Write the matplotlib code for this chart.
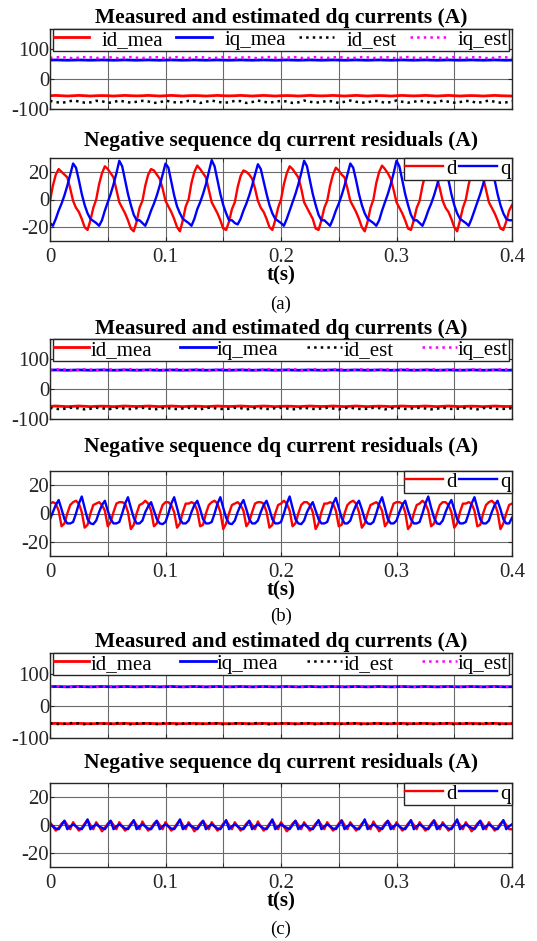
import numpy as np
import matplotlib
matplotlib.use('Agg')
import matplotlib.pyplot as plt

plt.rcParams['font.family'] = ['Liberation Serif', 'DejaVu Serif']
plt.rcParams['axes.unicode_minus'] = False

# ---------------- data ----------------
t_top = np.linspace(0, 0.4, 81)      # 5 ms sampling for top panels
t_res = np.linspace(0, 0.4, 161)     # 2.5 ms sampling for residual panels

# (a) measured / estimated dq currents
a_id_mea = [-56,-55,-56,-57,-56,-55,-56,-57,-56,-55.5,-56,-57,-56,-55,-56,-56.5,-56,-55,-56,-57,
            -56,-55,-56,-57,-56,-55.5,-56,-57,-56,-55,-56,-56.5,-56,-55,-56,-57,-56,-55,-56,-57,
            -56,-55.5,-56,-57,-56,-55,-56,-56.5,-56,-55,-56,-57,-56,-55,-56,-57,-56,-55.5,-56,-57,
            -56,-55,-56,-56.5,-56,-55,-56,-57,-56,-55,-56,-57,-56,-55.5,-56,-57,-56,-55,-56,-56.5,-57]
a_iq_mea = [62,62.5,62,61.5,62,62.5,62,61.5,62,62.5,62,61.5,62,62.5,62,61.5,62,62.5,62,61.5,
            62,62.5,62,61.5,62,62.5,62,61.5,62,62.5,62,61.5,62,62.5,62,61.5,62,62.5,62,61.5,
            62,62.5,62,61.5,62,62.5,62,61.5,62,62.5,62,61.5,62,62.5,62,61.5,62,62.5,62,61.5,
            62,62.5,62,61.5,62,62.5,62,61.5,62,62.5,62,61.5,62,62.5,62,61.5,62,62.5,62,61.5,62]
a_id_est = [-73,-77,-80,-76,-72,-75,-79,-78,-73,-74,-80,-77,-72,-76,-79,-76,-73,-75,-80,-78,
            -72,-76,-79,-77,-73,-75,-80,-76,-72,-76,-79,-78,-73,-74,-80,-77,-72,-76,-79,-76,
            -73,-75,-80,-78,-72,-76,-79,-77,-73,-75,-80,-76,-72,-76,-79,-78,-73,-74,-80,-77,
            -72,-76,-79,-76,-73,-75,-80,-78,-72,-76,-79,-77,-73,-75,-80,-76,-72,-76,-79,-78,-74]
a_iq_est = [69,71,72,70,68,70,72,71,69,70,72,70,68,71,72,70,69,70,72,71,
            68,70,72,70,69,71,72,70,68,70,72,71,69,70,72,70,68,71,72,70,
            69,70,72,71,68,70,72,70,69,71,72,70,68,70,72,71,69,70,72,70,
            68,71,72,70,69,70,72,71,68,70,72,70,69,71,72,70,68,70,72,71,70]

# (a) negative-sequence residuals
a_res_d = [-1,10,18,22,20,18,16,8,-1,-6,-9,-14,-20,-22,-15,-6,
           0,11,19,24,22,19,16,7,-2,-6,-10,-15,-21,-23,-16,-6,
           -1,10,18,22,21,18,15,8,-1,-5,-9,-14,-20,-23,-15,-5,
           0,12,20,24.5,22,19,16,7,-2,-6,-10,-15,-21,-22,-16,-7,
           -2,9,17,21,20,18,15,8,-1,-6,-9,-14,-20,-22,-15,-6,
           0,11,19,24,22,19,16,8,-2,-6,-10,-14,-21,-22,-15,-6,
           -1,10,18,23,21,18,16,8,-1,-5,-9,-14,-20,-23,-16,-6,
           0,12,20,24.5,22,19,15,7,-2,-6,-10,-15,-21,-22,-15,-6,
           -1,10,18,22,21,18,16,8,-1,-6,-9,-14,-20,-23,-15,-6,
           0,11,19,24,22,19,16,7,-2,-6,-10,-15,-21,-22,-16,-8,
           -4]
a_res_q = [-17,-19,-14,-8,-3,3,10,18,26,23,14,4,-4,-10,-14,-15.5,
           -17,-19,-15,-8,-2,4,11,19,28,24,14,4,-4,-11,-15,-15,
           -17,-19,-14,-8,-3,3,10,18,26,23,13,3,-5,-10,-14,-15.5,
           -17,-19,-14,-7,-2,4,11,20,28.5,24,14,4,-4,-10,-15,-15,
           -17,-18,-14,-8,-3,3,10,18,25.5,22,13,4,-4,-10,-14,-15.5,
           -17,-19,-14,-8,-2,4,11,19,28,24,14,4,-4,-11,-15,-15,
           -17,-19,-14,-8,-3,3,10,18,26,23,14,4,-4,-10,-14,-15.5,
           -17,-19,-15,-8,-2,4,11,19,28,24,14,4,-4,-11,-15,-15,
           -17,-19,-14,-8,-3,3,10,18,26,23,14,4,-4,-10,-14,-15.5,
           -17,-19,-14,-8,-2,4,11,19,28,24,14,4,-4,-10,-14,-15,
           -15]

# (b) measured / estimated dq currents
b_id_mea = [-58,-57,-58,-59,-58,-57,-58,-59,-58,-57.5,-58,-59,-58,-57,-58,-58.5,-58,-57,-58,-59,
            -58,-57,-58,-59,-58,-57.5,-58,-59,-58,-57,-58,-58.5,-58,-57,-58,-59,-58,-57,-58,-59,
            -58,-57.5,-58,-59,-58,-57,-58,-58.5,-58,-57,-58,-59,-58,-57,-58,-59,-58,-57.5,-58,-59,
            -58,-57,-58,-58.5,-58,-57,-58,-59,-58,-57,-58,-59,-58,-57.5,-58,-59,-58,-57,-58,-58.5,-58]
b_iq_mea = [62,62.5,62,61.5,62,62.5,62,61.5,62,62.5,62,61.5,62,62.5,62,61.5,62,62.5,62,61.5,
            62,62.5,62,61.5,62,62.5,62,61.5,62,62.5,62,61.5,62,62.5,62,61.5,62,62.5,62,61.5,
            62,62.5,62,61.5,62,62.5,62,61.5,62,62.5,62,61.5,62,62.5,62,61.5,62,62.5,62,61.5,
            62,62.5,62,61.5,62,62.5,62,61.5,62,62.5,62,61.5,62,62.5,62,61.5,62,62.5,62,61.5,62]
b_id_est = [-63,-66,-68,-64,-62,-65,-68,-66,-63,-64,-68,-65,-62,-66,-67,-64,-63,-65,-68,-66,
            -62,-66,-67,-65,-63,-65,-68,-64,-62,-66,-67,-66,-63,-64,-68,-65,-62,-66,-67,-64,
            -63,-65,-68,-66,-62,-66,-67,-65,-63,-65,-68,-64,-62,-66,-67,-66,-63,-64,-68,-65,
            -62,-66,-67,-64,-63,-65,-68,-66,-62,-66,-67,-65,-63,-65,-68,-64,-62,-66,-67,-66,-64]
b_iq_est = [62,64,65,63,61,63,65,64,62,63,65,63,61,64,65,63,62,63,65,64,
            61,63,65,63,62,64,65,63,61,63,65,64,62,63,65,63,61,64,65,63,
            62,63,65,64,61,63,65,63,62,64,65,63,61,63,65,64,62,63,65,63,
            61,64,65,63,62,63,65,64,61,63,65,63,62,64,65,63,61,63,65,64,63]

# (b) negative-sequence residuals
b_res_d = [7,8,7,2,-9,-7,0,6, 8,9,7,1,-10,-8,0,6, 7,8,6,2,-9,-6,1,7, 8,8,7,1,-11,-8,0,6,
           7,9,7,2,-9,-7,0,6, 8,8,6,1,-10,-7,1,7, 7,8,7,2,-9,-8,0,6, 8,9,7,1,-11,-7,0,6,
           7,8,6,2,-9,-6,1,7, 8,8,7,1,-10,-8,0,6, 7,9,7,2,-9,-7,0,6, 8,8,6,1,-11,-7,1,7,
           7,8,7,2,-9,-8,0,6, 8,9,7,1,-10,-7,0,6, 7,8,6,2,-9,-6,1,7, 8,8,7,1,-11,-8,0,6,
           7,9,7,2,-9,-7,0,6, 8,8,6,1,-10,-7,1,7, 7,8,7,2,-9,-8,0,6, 8,9,7,1,-11,-7,0,6,
           7]
b_res_q = [-4,1,6,9.5,3,-4,-7,-7, -6,0,7,12,4,-4,-7,-7.5, -5,1,6,9,2,-4,-7,-7, -6,0,7,11.5,4,-3,-7,-7,
           -5,1,5,8,2,-4,-7,-7.5, -6,0,7,11.5,4,-4,-7,-7, -5,1,6,9,3,-4,-7,-7, -6,0,7,11.5,4,-3,-7,-7.5,
           -5,1,6,9.5,3,-4,-7,-7, -5,1,6,9,3,-4,-7,-7, -6,0,7,12,4,-4,-7,-7.5, -5,1,5,8,2,-4,-7,-7,
           -6,0,7,11,4,-3,-7,-7, -5,1,6,9,3,-4,-7,-7.5, -6,0,7,11.5,4,-4,-7,-7, -5,1,6,9,2,-4,-7,-7,
           -6,0,7,12,4,-3,-7,-7.5, -5,1,6,9.5,3,-4,-7,-7, -6,0,7,11.5,4,-4,-7,-7, -5,1,6,9,3,-4,-7,-7,
           -3]

# (c) measured / estimated dq currents
c_id_mea = [-55,-54.5,-55,-55.5,-55,-54.5,-55,-55.5,-55,-54.5,-55,-55.5,-55,-54.5,-55,-55.5,-55,-54.5,-55,-55.5,
            -55,-54.5,-55,-55.5,-55,-54.5,-55,-55.5,-55,-54.5,-55,-55.5,-55,-54.5,-55,-55.5,-55,-54.5,-55,-55.5,
            -55,-54.5,-55,-55.5,-55,-54.5,-55,-55.5,-55,-54.5,-55,-55.5,-55,-54.5,-55,-55.5,-55,-54.5,-55,-55.5,
            -55,-54.5,-55,-55.5,-55,-54.5,-55,-55.5,-55,-54.5,-55,-55.5,-55,-54.5,-55,-55.5,-55,-54.5,-55,-55.5,-55]
c_iq_mea = [60,60.5,60,59.5,60,60.5,60,59.5,60,60.5,60,59.5,60,60.5,60,59.5,60,60.5,60,59.5,
            60,60.5,60,59.5,60,60.5,60,59.5,60,60.5,60,59.5,60,60.5,60,59.5,60,60.5,60,59.5,
            60,60.5,60,59.5,60,60.5,60,59.5,60,60.5,60,59.5,60,60.5,60,59.5,60,60.5,60,59.5,
            60,60.5,60,59.5,60,60.5,60,59.5,60,60.5,60,59.5,60,60.5,60,59.5,60,60.5,60,59.5,60]
c_id_est = [-54,-56,-57,-55,-53,-55,-57,-56,-54,-55,-57,-55,-53,-56,-57,-55,-54,-55,-57,-56,
            -53,-55,-57,-55,-54,-56,-57,-55,-53,-55,-57,-56,-54,-55,-57,-55,-53,-56,-57,-55,
            -54,-55,-57,-56,-53,-55,-57,-55,-54,-56,-57,-55,-53,-55,-57,-56,-54,-55,-57,-55,
            -53,-56,-57,-55,-54,-55,-57,-56,-53,-55,-57,-55,-54,-56,-57,-55,-53,-55,-57,-56,-55]
c_iq_est = [59,61,61.5,60,59,60,61.5,60.5,59,60,61.5,60,59,61,61.5,60,59,60,61.5,60.5,
            59,60,61.5,60,59,61,61.5,60,59,60,61.5,60.5,59,60,61.5,60,59,61,61.5,60,
            59,60,61.5,60.5,59,60,61.5,60,59,61,61.5,60,59,60,61.5,60.5,59,60,61.5,60,
            59,61,61.5,60,59,60,61.5,60.5,59,60,61.5,60,59,61,61.5,60,59,60,61.5,60.5,60]

# (c) negative-sequence residuals
c_res_d = [2,-1,-4,-2,1,3,0,-3, 2,-1,-4,-2,1,3.5,0,-3, 2,-1,-4.5,-2,1,3,0,-3, 2,-1,-4,-2,1,3,0,-3,
           2.5,-1,-4,-2,1,3,0,-3, 2,-1,-4,-2,1,3.5,0,-3, 2,-1,-4.5,-2,1,3,0,-3, 2,-1,-4,-2,1,3,0,-3,
           2,-1,-4,-2,1,3,0,-3, 2.5,-1,-4,-2,1,3.5,0,-3, 2,-1,-4.5,-2,1,3,0,-3, 2,-1,-4,-2,1,3,0,-3,
           2,-1,-4,-2,1,3.5,0,-3, 2,-1,-4,-2,1,3,0,-3, 2.5,-1,-4.5,-2,1,3,0,-3, 2,-1,-4,-2,1,3,0,-3,
           2,-1,-4,-2,1,3.5,0,-3, 2,-1,-4,-2,1,3,0,-3, 2,-1,-4.5,-2,1,3,0,-3, 2,-1,-4,-2,1,3,0,-3,
           -3]
c_res_q = [0.5,-1,-2.5,-3,0,3,-3,-1, 0.5,-1,-2.5,-3,0,4,-3,-1, 0.5,-1,-2,-3,0,3,-3,-1, 0.5,-1,-2.5,-3,0,3.5,-3,-1,
           0.5,-1,-2.5,-3,0,3,-3,-1, 0.5,-1,-2.5,-3,0,4,-3,-1, 0.5,-1,-2,-3,0,3,-3,-1, 0.5,-1,-2.5,-3,0,3.5,-3,-1,
           0.5,-1,-2.5,-3,0,3,-3,-1, 0.5,-1,-2.5,-3,0,4,-3,-1, 0.5,-1,-2,-3,0,3,-3,-1, 0.5,-1,-2.5,-3,0,3.5,-3,-1,
           0.5,-1,-2.5,-3,0,3,-3,-1, 0.5,-1,-2.5,-3,0,4,-3,-1, 0.5,-1,-2,-3,0,3,-3,-1, 0.5,-1,-2.5,-3,0,3.5,-3,-1,
           0.5,-1,-2.5,-3,0,3,-3,-1, 0.5,-1,-2.5,-3,0,4,-3,-1, 0.5,-1,-2,-3,0,3,-3,-1, 0.5,-1,-2.5,-3,0,3.5,-3,-1,
           0.5]

x_ticks = [0, 0.1, 0.2, 0.3, 0.4]
x_tick_labels = ['0', '0.1', '0.2', '0.3', '0.4']
x_minor = [0.05, 0.15, 0.25, 0.35]
top_yticks = [-100, 0, 100]
res_yticks = [-20, 0, 20]
top_title = 'Measured and estimated dq currents (A)'
res_title = 'Negative sequence dq current residuals (A)'
top_labels = ['id_mea', 'iq_mea', 'id_est', 'iq_est']
res_labels = ['d', 'q']
captions = ['(a)', '(b)', '(c)']

# ---------------- layout ----------------
W, H = 537, 941
fig = plt.figure(figsize=(W / 100, H / 100), dpi=100)
XL, XR = 50, 512
FS = 15
TFS = 15.5


def rect(top, bottom):
    return [XL / W, 1 - bottom / H, (XR - XL) / W, (bottom - top) / H]


def style(ax, ylim, yticks, xlabels):
    ax.set_xlim(0, 0.4)
    ax.set_ylim(*ylim)
    ax.set_xticks(x_ticks)
    ax.set_xticks(x_minor, minor=True)
    ax.set_yticks(yticks)
    if xlabels:
        ax.set_xticklabels(x_tick_labels)
    else:
        ax.set_xticklabels([])
    ax.grid(True, which='both', color='#6a6a6a', lw=0.8)
    ax.set_axisbelow(True)
    ax.tick_params(which='both', direction='in', length=3, top=True, right=True,
                   labelsize=FS, colors='#262626', labelcolor='#262626')
    ax.tick_params(axis='y', pad=0.5)
    ax.tick_params(axis='x', pad=5)
    for s in ax.spines.values():
        s.set_color('#262626')
        s.set_linewidth(1.0)


panels = [
    dict(top=(29, 109), res=(158, 241), t1=18, t2=141, cap=304,
         top_data=(a_id_mea, a_iq_mea, a_id_est, a_iq_est), res_data=(a_res_d, a_res_q), tpad=0.6),
    dict(top=(339, 419), res=(471, 556), t1=329, t2=447, cap=616,
         top_data=(b_id_mea, b_iq_mea, b_id_est, b_iq_est), res_data=(b_res_d, b_res_q), tpad=0.05),
    dict(top=(653, 738), res=(783, 867), t1=642, t2=763, cap=929,
         top_data=(c_id_mea, c_iq_mea, c_id_est, c_iq_est), res_data=(c_res_d, c_res_q), tpad=0.05),
]

xc = (XL + XR) / 2 / W
for i, p in enumerate(panels):
    ax1 = fig.add_axes(rect(*p['top']))
    idm, iqm, ide, iqe = p['top_data']
    ax1.plot(t_top, idm, color='red', lw=2.0, label=top_labels[0])
    ax1.plot(t_top, iqm, color='blue', lw=2.0, label=top_labels[1])
    ax1.plot(t_top, ide, color='black', lw=1.8, ls=':', label=top_labels[2])
    ax1.plot(t_top, iqe, color='magenta', lw=1.8, ls=':', label=top_labels[3])
    style(ax1, (-100, 165), top_yticks, False)
    leg = ax1.legend(loc='upper left', bbox_to_anchor=(0.006, 1.0, 0.988, 0), mode='expand',
                     ncol=4, fontsize=FS, frameon=True, fancybox=False, framealpha=1,
                     edgecolor='#262626', borderpad=0.05, handlelength=1.7,
                     handletextpad=p['tpad'], columnspacing=0.4, borderaxespad=0.0)
    leg.get_frame().set_linewidth(1.0)

    ax2 = fig.add_axes(rect(*p['res']))
    rd, rq = p['res_data']
    ax2.plot(t_res, rd, color='red', lw=1.7, label=res_labels[0])
    ax2.plot(t_res, rq, color='blue', lw=1.7, label=res_labels[1])
    style(ax2, (-30, 30), res_yticks, True)
    leg2 = ax2.legend(loc='upper right', ncol=2, fontsize=FS, frameon=True, fancybox=False,
                      framealpha=1, edgecolor='#262626', borderpad=0.05, handlelength=1.85,
                      handletextpad=0.15, columnspacing=0.1, borderaxespad=0.0)
    leg2.get_frame().set_linewidth(1.0)
    ax2.set_xlabel('t(s)', fontsize=FS, fontweight='bold', labelpad=-1)

    fig.text(xc, 1 - p['t1'] / H, top_title, ha='center', va='center', fontsize=TFS, fontweight='bold')
    fig.text(xc, 1 - p['t2'] / H, res_title, ha='center', va='center', fontsize=TFS, fontweight='bold')
    fig.text(xc, 1 - p['cap'] / H, captions[i], ha='center', va='center', fontsize=13.5)

fig.savefig('out.png', dpi=100)
